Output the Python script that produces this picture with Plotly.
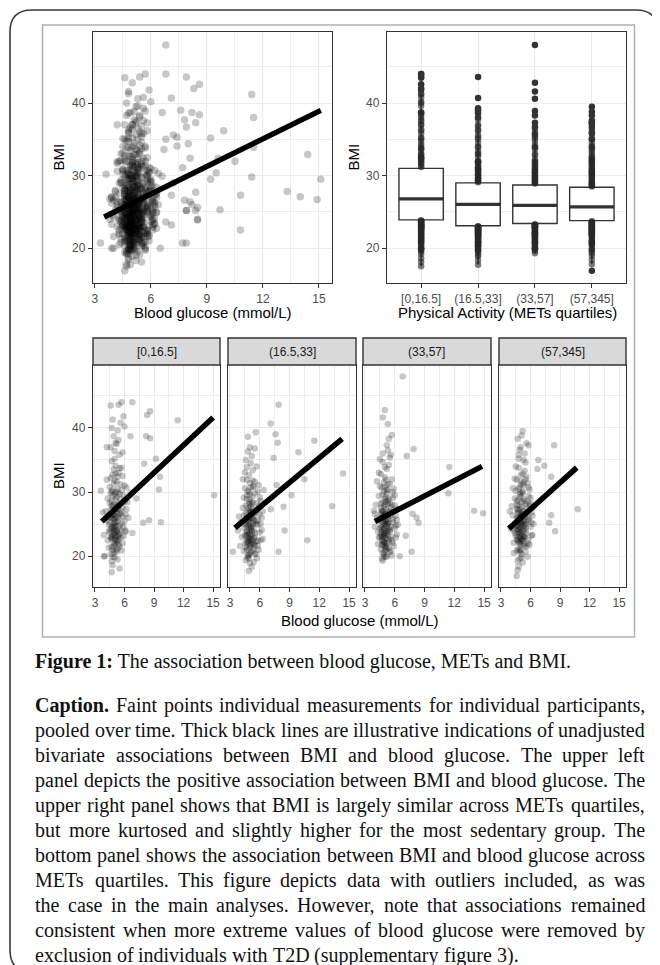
import plotly.graph_objects as go

# page pixels of the reference; the page body adds an 8px margin
PAGE_W, PAGE_H, OFF = 660, 965, 8
W, H = PAGE_W - OFF, PAGE_H - OFF

# ---------------- data ----------------
quartile_labels = ["[0,16.5]", "(16.5,33]", "(33,57]", "(57,345]"]

# (blood glucose mmol/L, BMI)
q1_points = [
    (4.8, 24.5), (5.1, 23.2), (4.6, 26.1), (5.3, 25.4), (4.9, 22.1), (5.0, 27.3), (4.7, 21.4), (5.2, 24.0), (4.5, 23.7), (5.4, 28.2),
    (4.9, 25.8), (5.1, 20.9), (4.8, 29.4), (5.6, 26.7), (4.4, 24.9), (5.0, 22.8), (5.3, 30.5), (4.7, 27.9), (5.5, 23.5), (4.6, 20.3),
    (5.2, 31.6), (4.9, 26.6), (5.0, 19.8), (4.3, 22.5), (5.7, 25.1), (4.8, 32.7), (5.1, 28.8), (4.6, 24.2), (5.4, 21.8), (4.9, 33.5),
    (5.2, 26.9), (4.7, 30.1), (5.8, 27.6), (4.5, 28.3), (5.0, 35.2), (5.3, 22.4), (4.4, 26.4), (5.6, 31.2), (4.8, 21.0), (5.1, 34.1),
    (4.2, 25.6), (5.5, 29.7), (4.9, 23.9), (5.0, 36.4), (4.6, 32.2), (5.9, 24.6), (4.7, 19.2), (5.2, 37.5), (4.1, 27.0), (5.4, 33.0),
    (4.8, 27.7), (5.0, 25.2), (4.5, 30.8), (5.3, 26.2), (4.9, 20.5), (5.6, 22.9), (4.3, 29.0), (5.1, 30.0), (4.7, 34.8), (6.0, 28.5),
    (3.9, 23.3), (5.5, 35.8), (4.8, 18.6), (5.2, 29.2), (4.6, 37.0), (6.2, 30.7), (4.4, 21.3), (5.7, 33.8), (5.0, 24.8), (4.9, 31.3),
    (6.4, 26.0), (3.8, 26.8), (5.3, 19.5), (4.7, 23.0), (5.8, 36.2), (4.2, 31.9), (6.1, 23.8), (5.4, 38.1), (4.0, 20.0), (6.6, 29.9),
    (4.8, 23.1), (5.0, 24.1), (4.9, 25.0), (5.1, 26.0), (4.7, 22.7), (5.2, 23.8), (4.9, 27.0), (5.0, 21.9), (4.8, 25.9), (5.1, 24.7),
    (4.6, 22.9), (5.3, 27.4), (4.9, 21.6), (5.0, 26.3), (4.7, 28.6), (5.2, 22.2), (4.8, 30.3), (5.1, 25.3), (4.5, 25.3), (5.4, 24.3),
    (4.9, 23.4), (5.0, 29.6), (4.6, 27.2), (5.2, 20.7), (4.8, 26.5), (5.3, 23.1), (4.7, 24.6), (5.0, 31.8), (4.9, 28.0), (5.1, 22.5),
    (4.4, 23.9), (5.5, 26.6), (4.8, 19.9), (5.0, 23.6), (4.6, 29.8), (5.2, 27.9), (4.9, 24.3), (5.1, 32.9), (4.7, 26.0), (5.3, 21.2),
    (5.5, 24.8), (5.8, 26.2), (5.4, 22.6), (6.0, 25.5), (5.6, 28.9), (5.3, 27.8), (5.9, 23.1), (5.7, 30.3), (6.2, 27.3), (5.5, 21.5),
    (5.8, 32.5), (5.4, 25.9), (6.1, 24.0), (5.6, 24.0), (6.3, 28.4), (5.9, 29.5), (5.3, 29.9), (5.7, 20.9), (6.0, 31.0), (5.5, 33.7),
    (5.4, 23.3), (5.8, 22.0), (6.1, 26.5), (5.6, 27.1), (5.3, 32.4),
    (4.6, 43.5), (5.4, 43.6), (5.7, 44.0), (6.8, 44.0), (5.9, 41.8), (4.8, 41.3), (5.6, 40.8), (8.6, 42.6), (8.3, 42.0), (11.4, 41.2),
    (6.0, 40.2), (8.2, 38.7), (8.6, 38.4), (4.9, 38.7), (5.1, 37.7), (4.2, 37.0), (6.6, 38.7), (9.2, 35.2), (8.0, 34.4), (9.6, 32.4),
    (9.5, 30.4), (7.2, 29.0), (15.1, 29.5), (3.6, 30.2), (7.9, 25.2), (8.5, 25.6), (9.7, 25.3), (6.8, 23.6), (3.9, 20.0), (4.7, 17.5),
    (5.5, 18.1), (5.3, 39.6), (4.7, 40.0),
]
q2_points = [
    (4.9, 23.8), (5.2, 22.6), (4.7, 25.4), (5.0, 21.5), (5.3, 24.9), (4.8, 27.1), (5.1, 20.6), (4.6, 23.1), (5.4, 26.3), (4.9, 19.7),
    (5.0, 28.4), (4.5, 22.0), (5.2, 25.9), (4.8, 30.2), (5.5, 23.6), (4.7, 21.0), (5.1, 27.8), (4.4, 24.4), (5.3, 29.3), (4.9, 22.9),
    (5.6, 25.0), (4.6, 26.7), (5.0, 31.4), (4.8, 20.1), (5.2, 23.3), (4.3, 27.5), (5.4, 21.2), (4.9, 32.6), (5.1, 24.2), (4.7, 28.9),
    (5.7, 27.2), (4.5, 30.6), (5.0, 18.9), (5.3, 33.4), (4.8, 25.7), (4.2, 23.0), (5.5, 29.8), (4.9, 26.0), (5.1, 34.5), (4.6, 19.4),
    (5.8, 22.4), (4.4, 29.1), (5.0, 24.7), (5.2, 35.6), (4.7, 31.9), (6.0, 26.5), (4.1, 25.3), (5.4, 30.9), (4.8, 36.3), (5.1, 21.8),
    (4.5, 33.1), (5.6, 20.4), (4.9, 28.1), (5.3, 27.4), (4.0, 21.6), (5.9, 31.1), (4.7, 23.9), (5.0, 37.0), (4.6, 35.0), (6.2, 24.1),
    (5.2, 18.3), (4.3, 32.0), (5.7, 34.0), (4.8, 22.2), (6.1, 28.6), (3.9, 26.2), (5.5, 36.8), (4.9, 17.7), (5.3, 31.8), (4.4, 20.8),
    (6.4, 30.3), (4.6, 27.9), (5.8, 25.6), (5.0, 29.6), (3.8, 24.0), (5.1, 26.8), (6.3, 22.7), (4.7, 33.9), (5.4, 19.1), (4.9, 30.0),
    (4.9, 22.4), (5.0, 23.5), (4.8, 24.6), (5.1, 22.0), (4.7, 23.7), (5.2, 24.5), (4.9, 21.2), (5.0, 25.8), (4.8, 22.8), (5.1, 26.9),
    (4.6, 24.8), (5.3, 22.1), (4.9, 27.5), (5.0, 20.4), (4.7, 26.1), (5.2, 28.2), (4.8, 21.9), (5.1, 23.0), (4.5, 23.3), (5.4, 25.6),
    (4.9, 24.9), (5.0, 28.8), (4.6, 21.4), (5.2, 26.6), (4.8, 23.4), (5.3, 20.9), (4.7, 29.5), (5.0, 22.6), (4.9, 25.5), (5.1, 30.7),
    (4.4, 26.3), (5.5, 21.7), (4.8, 19.8), (5.0, 27.1), (4.6, 25.1), (5.2, 23.9), (4.9, 20.2), (5.1, 24.4), (4.7, 22.3), (5.3, 26.0),
    (5.5, 23.0), (5.8, 24.9), (5.4, 21.9), (6.0, 23.7), (5.6, 26.8), (5.3, 25.2), (5.9, 21.0), (5.7, 28.3), (6.2, 26.0), (5.5, 20.3),
    (5.8, 30.1), (5.4, 24.0), (6.1, 22.5), (5.6, 22.3), (6.3, 27.0), (5.9, 27.8), (5.3, 28.4), (5.7, 19.7), (6.0, 29.2), (5.5, 31.6),
    (5.4, 22.8), (5.8, 21.6), (6.1, 25.0), (5.6, 25.4), (5.3, 30.8),
    (7.9, 43.6), (7.1, 40.7), (7.6, 39.0), (7.8, 37.7), (4.8, 38.6), (11.5, 38.0), (9.9, 36.2), (7.4, 35.3), (14.4, 32.9), (10.5, 32.0),
    (9.2, 29.5), (8.4, 27.7), (13.3, 27.8), (7.7, 31.1), (7.1, 27.3), (8.5, 24.0), (10.8, 22.5), (7.9, 20.7), (3.3, 20.7), (5.6, 39.3),
]
q3_points = [
    (4.9, 24.3), (5.1, 22.8), (4.7, 25.9), (5.2, 23.6), (4.8, 27.0), (5.0, 21.4), (4.6, 24.8), (5.3, 26.2), (4.9, 20.3), (5.1, 28.5),
    (4.5, 23.0), (5.4, 25.3), (4.8, 29.6), (5.0, 22.1), (4.7, 26.8), (5.2, 30.4), (4.4, 25.6), (5.5, 24.1), (4.9, 31.5), (5.1, 20.0),
    (4.6, 28.2), (5.3, 23.2), (5.0, 32.3), (4.8, 21.7), (5.6, 27.6), (4.3, 23.8), (5.2, 33.6), (4.9, 26.4), (4.7, 19.6), (5.4, 29.0),
    (5.0, 25.0), (4.5, 30.9), (5.7, 22.5), (4.8, 34.7), (5.1, 27.3), (4.2, 26.0), (5.3, 31.2), (4.9, 23.5), (5.5, 35.4), (4.6, 21.1),
    (5.0, 28.9), (4.4, 33.0), (5.8, 25.8), (4.7, 24.5), (5.2, 19.9), (4.1, 28.0), (5.4, 34.2), (4.9, 30.1), (5.6, 20.8), (4.8, 36.0),
    (6.0, 27.9), (4.3, 21.9), (5.1, 25.4), (4.6, 32.8), (5.9, 30.5), (5.0, 26.7), (4.0, 24.6), (5.3, 36.5), (4.7, 22.6), (6.2, 23.4),
    (5.5, 28.3), (4.8, 19.3), (5.2, 29.8), (4.5, 35.1), (6.1, 26.3), (3.9, 27.1), (5.7, 32.0), (4.9, 22.3), (5.0, 33.9), (4.4, 29.4),
    (6.3, 24.9), (5.1, 21.0), (4.6, 27.5), (5.8, 29.1), (4.8, 25.2), (5.3, 24.0), (4.2, 31.7), (5.6, 35.8), (4.7, 30.7), (5.0, 23.1),
    (4.9, 23.7), (5.0, 24.9), (4.8, 22.4), (5.1, 25.7), (4.7, 24.0), (5.2, 22.0), (4.9, 26.1), (5.0, 23.3), (4.8, 25.5), (5.1, 21.6),
    (4.6, 23.5), (5.3, 25.0), (4.9, 27.7), (5.0, 20.8), (4.7, 27.1), (5.2, 24.7), (4.8, 23.0), (5.1, 29.2), (4.5, 24.3), (5.4, 22.7),
    (4.9, 22.0), (5.0, 26.5), (4.6, 25.9), (5.2, 21.3), (4.8, 28.4), (5.3, 27.0), (4.7, 21.8), (5.0, 30.8), (4.9, 24.2), (5.1, 23.9),
    (4.4, 22.9), (5.5, 26.9), (4.8, 20.5), (5.0, 28.0), (4.6, 26.6), (5.2, 25.2), (4.9, 19.9), (5.1, 31.9), (4.7, 23.2), (5.3, 28.7),
    (5.5, 23.8), (5.8, 25.3), (5.4, 22.2), (6.0, 24.3), (5.6, 26.3), (5.3, 25.8), (5.9, 21.6), (5.7, 28.0), (6.2, 25.7), (5.5, 20.6),
    (5.8, 30.0), (5.4, 24.4), (6.1, 22.9), (5.6, 23.0), (6.3, 27.4), (5.9, 27.2), (5.3, 28.1), (5.7, 20.1), (6.0, 29.5), (5.5, 31.3),
    (5.4, 21.2), (5.8, 22.1), (6.1, 24.8), (5.6, 24.6), (5.3, 30.3),
    (6.8, 48.0), (5.3, 40.6), (5.7, 38.9), (5.4, 38.3), (7.9, 36.7), (7.2, 35.6), (11.5, 33.9), (11.4, 29.8), (14.0, 27.1), (14.9, 26.7),
    (8.2, 26.0), (8.4, 25.2), (7.1, 23.2), (7.7, 20.7), (6.5, 20.0), (7.8, 26.6), (4.0, 26.6), (5.0, 42.8), (4.8, 41.6), (5.2, 37.3),
]
q4_points = [
    (4.9, 24.6), (5.1, 23.4), (4.7, 25.8), (5.2, 22.7), (4.8, 26.9), (5.0, 21.8), (4.6, 24.1), (5.3, 25.5), (4.9, 20.6), (5.1, 27.7),
    (4.5, 23.2), (5.4, 26.3), (4.8, 28.8), (5.0, 22.3), (4.7, 27.2), (5.2, 29.9), (4.4, 25.1), (5.5, 24.4), (4.9, 30.8), (5.1, 19.8),
    (4.6, 28.0), (5.3, 23.0), (5.0, 31.7), (4.8, 21.2), (5.6, 27.5), (4.3, 24.0), (5.2, 32.9), (4.9, 26.2), (4.7, 19.3), (5.4, 28.6),
    (5.0, 25.3), (4.5, 30.2), (5.7, 22.0), (4.8, 33.8), (5.1, 26.6), (4.2, 26.4), (5.3, 31.0), (4.9, 23.7), (5.5, 34.6), (4.6, 20.9),
    (5.0, 29.3), (4.4, 32.1), (5.8, 25.9), (4.7, 24.8), (5.2, 19.0), (4.1, 27.8), (5.4, 33.3), (4.9, 29.6), (5.6, 21.5), (4.8, 35.2),
    (6.0, 28.2), (4.3, 22.1), (5.1, 25.7), (4.6, 31.9), (5.9, 30.4), (5.0, 26.0), (4.0, 24.3), (5.3, 35.0), (4.7, 22.5), (6.2, 23.3),
    (5.5, 28.1), (4.8, 18.4), (5.2, 30.1), (4.5, 34.0), (6.1, 26.8), (3.9, 27.0), (5.7, 31.4), (4.9, 22.8), (5.0, 32.6), (4.4, 29.0),
    (6.3, 25.0), (5.1, 20.3), (4.6, 27.4), (5.8, 29.4), (4.8, 25.4), (5.3, 24.2), (4.2, 30.6), (5.6, 32.4), (4.7, 17.8), (5.0, 23.6),
    (4.9, 24.0), (5.0, 25.1), (4.8, 23.5), (5.1, 24.9), (4.7, 25.6), (5.2, 23.9), (4.9, 22.0), (5.0, 26.4), (4.8, 24.4), (5.1, 22.6),
    (4.6, 26.0), (5.3, 24.7), (4.9, 27.3), (5.0, 21.0), (4.7, 23.0), (5.2, 26.9), (4.8, 22.2), (5.1, 28.4), (4.5, 24.7), (5.4, 23.1),
    (4.9, 25.9), (5.0, 23.1), (4.6, 22.6), (5.2, 25.4), (4.8, 27.9), (5.3, 21.9), (4.7, 26.7), (5.0, 29.8), (4.9, 20.9), (5.1, 26.2),
    (4.4, 23.6), (5.5, 25.3), (4.8, 30.5), (5.0, 24.5), (4.6, 28.6), (5.2, 22.4), (4.9, 19.6), (5.1, 31.2), (4.7, 24.2), (5.3, 27.1),
    (5.5, 24.0), (5.8, 25.6), (5.4, 22.9), (6.0, 24.6), (5.6, 26.1), (5.3, 26.5), (5.9, 21.8), (5.7, 28.5), (6.2, 26.3), (5.5, 20.7),
    (5.8, 30.7), (5.4, 24.9), (6.1, 23.2), (5.6, 23.5), (6.3, 27.6), (5.9, 27.9), (5.3, 28.9), (5.7, 19.9), (6.0, 29.1), (5.5, 32.0),
    (5.4, 21.6), (5.8, 22.5), (6.1, 25.3), (5.6, 25.0), (5.3, 31.5),
    (4.7, 38.3), (5.6, 37.6), (5.8, 37.3), (8.4, 37.3), (6.8, 35.0), (7.4, 34.1), (6.7, 33.6), (8.1, 32.4), (10.8, 27.3), (8.1, 26.4),
    (7.9, 25.2), (8.5, 23.9), (4.6, 16.9), (4.3, 20.5), (5.2, 39.5), (4.9, 36.6), (5.4, 36.0), (5.1, 38.8), (5.0, 37.0), (4.8, 35.8),
]

# box-plot statistics
box_q1 = [23.9, 23.1, 23.4, 23.8]
box_median = [26.8, 26.05, 25.9, 25.7]
box_q3 = [31.0, 29.0, 28.7, 28.4]

# illustrative regression lines (end points)
fit_all_glucose = [3.5, 15.1]
fit_all_bmi = [24.3, 39.0]
fit_glucose = [[3.7, 15.0], [3.5, 14.3], [4.0, 14.8], [3.8, 10.7]]
fit_bmi = [[25.4, 41.6], [24.4, 38.3], [25.4, 34.0], [24.3, 33.8]]

figure_title = "<b>Figure 1:</b> The association between blood glucose, METs and BMI."
caption_lines = [
    "Caption. Faint points individual measurements for individual participants,",
    "pooled over time. Thick black lines are illustrative indications of unadjusted",
    "bivariate associations between BMI and blood glucose. The upper left",
    "panel depicts the positive association between BMI and blood glucose. The",
    "upper right panel shows that BMI is largely similar across METs quartiles,",
    "but more kurtosed and slightly higher for the most sedentary group. The",
    "bottom panel shows the association between BMI and blood glucose across",
    "METs quartiles. This figure depicts data with outliers included, as was",
    "the case in the main analyses. However, note that associations remained",
    "consistent when more extreme values of blood glucose were removed by",
    "exclusion of individuals with T2D (supplementary figure 3).",
]
bold_words = {"Caption."}

# ---------------- helpers ----------------
SANS = "Liberation Sans, Arial, sans-serif"
SERIF = "Liberation Serif, Times New Roman, serif"


def fx(p):
    return (p - OFF) / W


def fy(p):
    return 1 - (p - OFF) / H


quartiles = [q1_points, q2_points, q3_points, q4_points]
all_points = q1_points + q2_points + q3_points + q4_points

TL = (93, 332, 32, 283)
TR = (387, 626, 32, 283)
BX = [(93, 220), (228, 356), (363, 491), (499, 626)]
BY = (365, 587)

POINT_COL = "rgba(0,0,0,0.22)"
DARK = "#333333"


def base_axis(**kw):
    d = dict(showline=True, linecolor=DARK, linewidth=1.4, mirror=True,
             ticks="outside", ticklen=4, tickwidth=1.1, tickcolor=DARK,
             tickfont=dict(family=SANS, size=12, color="#4d4d4d"),
             showgrid=True, gridcolor="#ebebeb", gridwidth=1.1,
             zeroline=False, fixedrange=True)
    d.update(kw)
    return d


def glucose_axis(x0, x1, anchor, rng):
    return base_axis(domain=[fx(x0), fx(x1)], anchor=anchor, range=rng,
                     tickmode="linear", tick0=3, dtick=3,
                     minor=dict(tick0=3, dtick=1.5, showgrid=True,
                                gridcolor="#ededed", gridwidth=0.6))


def bmi_axis(y0, y1, anchor, **kw):
    return base_axis(domain=[fy(y1), fy(y0)], anchor=anchor, range=[15.2, 49.8],
                     tickmode="linear", tick0=20, dtick=10,
                     minor=dict(tick0=20, dtick=5, showgrid=True,
                                gridcolor="#ededed", gridwidth=0.6), **kw)


fig = go.Figure()

# ---- top-left pooled scatter ----
fig.add_trace(go.Scatter(
    x=[p[0] for p in all_points], y=[p[1] for p in all_points],
    mode="markers", marker=dict(size=7.5, color=POINT_COL, line=dict(width=0)),
    xaxis="x", yaxis="y", hoverinfo="skip"))
fig.add_trace(go.Scatter(x=fit_all_glucose, y=fit_all_bmi, mode="lines",
                         line=dict(color="black", width=5.5), xaxis="x", yaxis="y"))

# ---- top-right box plots ----
for k, pts in enumerate(quartiles):
    vals = [p[1] for p in pts]
    iqr = box_q3[k] - box_q1[k]
    lo_lim, hi_lim = box_q1[k] - 1.5 * iqr, box_q3[k] + 1.5 * iqr
    inside = [v for v in vals if lo_lim <= v <= hi_lim]
    column = [v for v in inside if v < box_q1[k] or v > box_q3[k]]
    outliers = [v for v in vals if v < lo_lim or v > hi_lim]
    pos = k + 1
    fig.add_trace(go.Box(
        x=[pos], q1=[box_q1[k]], median=[box_median[k]], q3=[box_q3[k]],
        lowerfence=[min(inside)], upperfence=[max(inside)],
        width=0.78, whiskerwidth=0, boxpoints=False,
        fillcolor="white", line=dict(color=DARK, width=1.4),
        xaxis="x2", yaxis="y2", hoverinfo="skip"))
    fig.add_trace(go.Scatter(
        x=[pos] * len(column), y=column, mode="markers",
        marker=dict(size=6.5, color="rgba(40,40,40,0.6)", line=dict(width=0)),
        xaxis="x2", yaxis="y2", hoverinfo="skip"))
    fig.add_trace(go.Scatter(
        x=[pos - 0.39, pos + 0.39], y=[box_median[k]] * 2, mode="lines",
        line=dict(color=DARK, width=3.2), xaxis="x2", yaxis="y2", hoverinfo="skip"))
    fig.add_trace(go.Scatter(
        x=[pos] * len(outliers), y=outliers, mode="markers",
        marker=dict(size=6.5, color=DARK, line=dict(width=0)),
        xaxis="x2", yaxis="y2", hoverinfo="skip"))

# ---- bottom facets ----
for k, pts in enumerate(quartiles):
    ax = str(k + 3)
    fig.add_trace(go.Scatter(
        x=[p[0] for p in pts], y=[p[1] for p in pts], mode="markers",
        marker=dict(size=6.5, color=POINT_COL, line=dict(width=0)),
        xaxis="x" + ax, yaxis="y" + ax, hoverinfo="skip"))
    fig.add_trace(go.Scatter(x=fit_glucose[k], y=fit_bmi[k], mode="lines",
                             line=dict(color="black", width=5.5),
                             xaxis="x" + ax, yaxis="y" + ax))

layout = dict(
    width=W, height=H, margin=dict(l=0, r=0, t=0, b=0),
    paper_bgcolor="white", plot_bgcolor="white", showlegend=False,
    xaxis=glucose_axis(TL[0], TL[1], "y", [2.9, 15.7]),
    yaxis=bmi_axis(TL[2], TL[3], "x"),
    xaxis2=base_axis(domain=[fx(TR[0]), fx(TR[1])], anchor="y2", range=[0.4, 4.6],
                     tickmode="array", tickvals=[1, 2, 3, 4], ticktext=quartile_labels),
    yaxis2=bmi_axis(TR[2], TR[3], "x2"),
)
for k in range(4):
    ax = str(k + 3)
    layout["xaxis" + ax] = glucose_axis(BX[k][0], BX[k][1], "y" + ax, [2.8, 15.7])
    if k == 0:
        layout["yaxis" + ax] = bmi_axis(BY[0], BY[1], "x" + ax)
    else:
        layout["yaxis" + ax] = bmi_axis(BY[0], BY[1], "x" + ax,
                                        showticklabels=False, ticks="")
fig.update_layout(**layout)


# ---- shapes: frames and strips ----
def rounded_path(x0, y0, x1, y1, r):
    return (f"M {fx(x0 + r)},{fy(y0)} L {fx(x1 - r)},{fy(y0)} "
            f"Q {fx(x1)},{fy(y0)} {fx(x1)},{fy(y0 + r)} L {fx(x1)},{fy(y1 - r)} "
            f"Q {fx(x1)},{fy(y1)} {fx(x1 - r)},{fy(y1)} L {fx(x0 + r)},{fy(y1)} "
            f"Q {fx(x0)},{fy(y1)} {fx(x0)},{fy(y1 - r)} L {fx(x0)},{fy(y0 + r)} "
            f"Q {fx(x0)},{fy(y0)} {fx(x0 + r)},{fy(y0)} Z")


shapes = [
    dict(type="path", xref="paper", yref="paper", path=rounded_path(10, 10, 658, 972, 22),
         line=dict(color="#3a3a3a", width=1.6), layer="above"),
    dict(type="rect", xref="paper", yref="paper", x0=fx(42.5), x1=fx(634.5), y0=fy(637), y1=fy(25),
         line=dict(color="#b0b0b0", width=1.5), layer="below"),
]


def ann(text, x, y, font, xanchor="center", yanchor="middle", **kw):
    d = dict(text=text, xref="paper", yref="paper", x=fx(x), y=fy(y),
             xanchor=xanchor, yanchor=yanchor, showarrow=False, font=font)
    d.update(kw)
    return d


annotations = []
strip_font = dict(family=SANS, size=12, color="#1a1a1a")
for k in range(4):
    shapes.append(dict(type="rect", xref="paper", yref="paper",
                       x0=fx(BX[k][0]), x1=fx(BX[k][1]), y0=fy(BY[0]), y1=fy(338),
                       fillcolor="#d9d9d9", line=dict(color=DARK, width=1.4), layer="above"))
    annotations.append(ann(quartile_labels[k], (BX[k][0] + BX[k][1]) / 2, 351.5, strip_font))

title_font = dict(family=SANS, size=15, color="black")
annotations += [
    ann("BMI", 58, 157.5, title_font, textangle=-90),
    ann("Blood glucose (mmol/L)", 212.5, 313, title_font),
    ann("BMI", 353, 157.5, title_font, textangle=-90),
    ann("Physical Activity (METs quartiles)", 507, 313, title_font),
    ann("BMI", 58, 476, title_font, textangle=-90),
    ann("Blood glucose (mmol/L)", 359.5, 620, title_font),
]

# ---- caption (justified word by word with Times-metric advance widths) ----
CAP_SIZE = 20
cap_font = dict(family=SERIF, size=CAP_SIZE, color="#111111")
TIMES = dict(zip("abcdefghijklmnopqrstuvwxyz",
                 [444, 500, 444, 500, 444, 333, 500, 500, 278, 278, 500, 278, 778,
                  500, 500, 500, 500, 333, 389, 278, 500, 500, 722, 500, 500, 444]))
TIMES.update(dict(zip("ABCDEFGHIJKLMNOPQRSTUVWXYZ",
                      [722, 667, 667, 722, 611, 556, 722, 722, 333, 389, 722, 611, 889,
                       722, 722, 556, 722, 667, 556, 611, 722, 722, 944, 722, 722, 611])))
TIMES.update({c: 500 for c in "0123456789"})
TIMES.update({",": 250, ".": 250, ":": 278, ";": 278, "(": 333, ")": 333, "-": 333, " ": 250})
TIMES_BOLD = dict(TIMES)
TIMES_BOLD.update({"C": 722, "a": 500, "p": 556, "t": 333, "i": 278, "o": 500, "n": 556, ".": 250})


def word_width(w, bold=False):
    table = TIMES_BOLD if bold else TIMES
    return sum(table.get(c, 500) for c in w) * CAP_SIZE / 1000.0


LEFT, RIGHT = 33, 643
annotations.append(ann(figure_title, LEFT, 661, cap_font, xanchor="left"))
for i, line in enumerate(caption_lines):
    y = 705 + 25.0 * i
    words = line.split(" ")
    widths = [word_width(w, w in bold_words) for w in words]
    last = i == len(caption_lines) - 1
    if last:
        gap = TIMES[" "] * CAP_SIZE / 1000.0
    else:
        gap = (RIGHT - LEFT - sum(widths)) / (len(words) - 1)
    x = LEFT
    for w, wd in zip(words, widths):
        text = "<b>" + w + "</b>" if w in bold_words else w
        annotations.append(ann(text, x, y, cap_font, xanchor="left"))
        x += wd + gap

fig.update_layout(shapes=shapes, annotations=annotations)
fig.write_html("out.html")
